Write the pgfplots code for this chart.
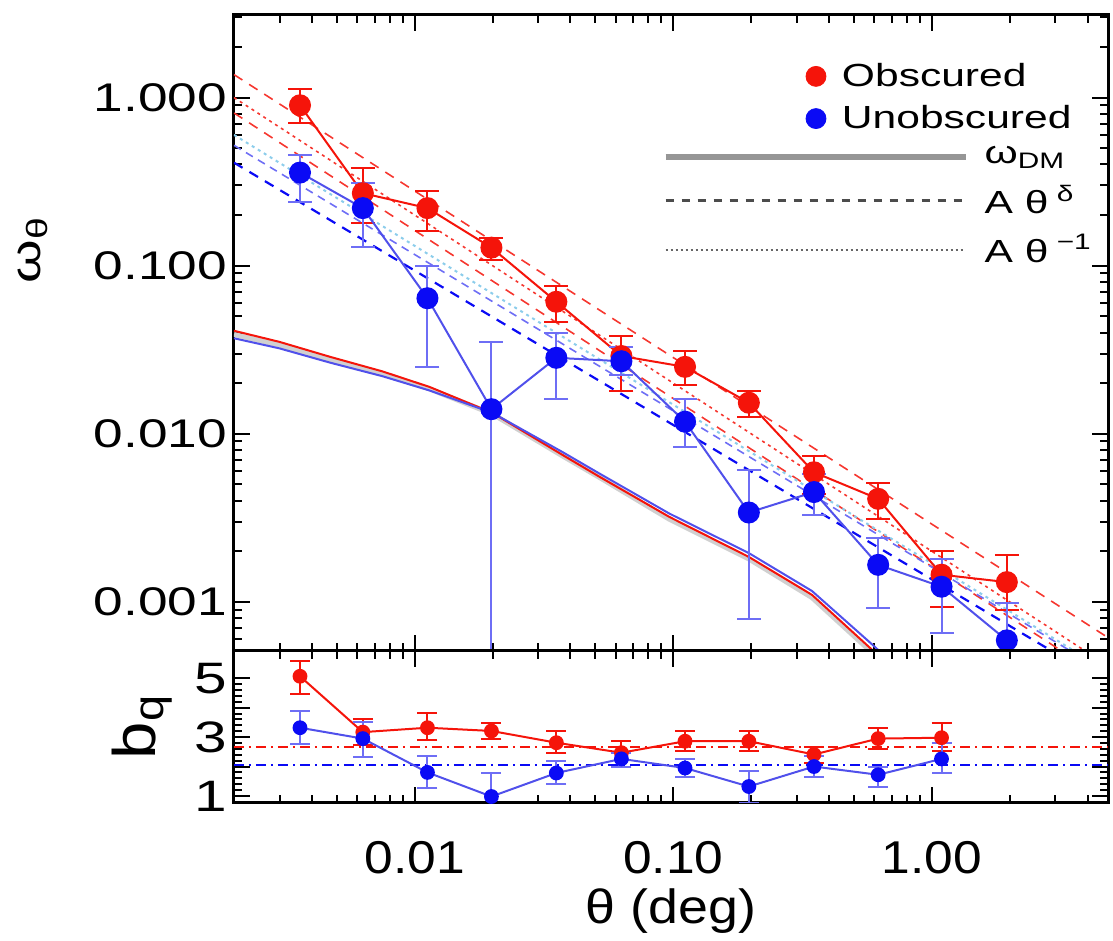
\documentclass[border=0pt]{standalone}
\usepackage{fontspec}
\setmainfont{Liberation Sans}
\newfontfamily\sfA{Liberation Sans}[FakeStretch=1.33]
\newfontfamily\sfB{Liberation Sans}[FakeStretch=1.12]
\usepackage{pgfplots}
\usepackage{pgfplotstable}
\pgfplotsset{compat=1.18}
\usetikzlibrary{calc}

\definecolor{myred}{RGB}{245,20,10}
\definecolor{myblue}{RGB}{10,10,245}
\definecolor{lineblue}{RGB}{80,80,235}
\definecolor{errblue}{RGB}{110,110,245}
\definecolor{ltblue}{RGB}{140,205,235}
\definecolor{dmgray}{RGB}{150,150,150}

\pgfplotstableread{
x y ep em
0.0036 0.90 0.22 0.19
0.0063 0.27 0.11 0.09
0.0112 0.22 0.06 0.06
0.0198 0.128 0.019 0.020
0.0353 0.061 0.015 0.015
0.063 0.029 0.009 0.011
0.111 0.025 0.006 0.0055
0.196 0.0153 0.0027 0.0028
0.35 0.0059 0.0015 0.0015
0.62 0.0041 0.0010 0.0010
1.09 0.00145 0.00055 0.00052
1.95 0.00131 0.00059 0.00041
}\redtop

\pgfplotstableread{
x y ep em
0.0036 0.358 0.10 0.118
0.0063 0.22 0.09 0.09
0.0112 0.064 0.036 0.039
0.0198 0.014 0.021 0.0139
0.0353 0.0283 0.0117 0.0123
0.063 0.027 0.0056 0.0045
0.111 0.0118 0.0042 0.0035
0.196 0.0034 0.0027 0.00261
0.35 0.0045 0.0013 0.0012
0.62 0.00166 0.00074 0.00074
1.09 0.00123 0.00057 0.00058
1.95 0.00059 0.0004 0.0004
}\bluetop

\pgfplotstableread{
x y ep em
0.0036 5.07 0.53 0.61
0.0063 3.17 0.45 0.45
0.0112 3.32 0.49 0.42
0.0198 3.21 0.26 0.29
0.0353 2.81 0.40 0.34
0.063 2.47 0.39 0.47
0.111 2.86 0.35 0.34
0.196 2.86 0.35 0.34
0.35 2.41 0.24 0.28
0.62 2.95 0.37 0.37
1.09 2.98 0.49 0.45
}\redbot

\pgfplotstableread{
x y ep em
0.0036 3.32 0.57 0.57
0.0063 2.95 0.55 0.61
0.0112 1.80 0.57 0.53
0.0198 0.98 0.80 0.50
0.0353 1.78 0.40 0.37
0.063 2.26 0.21 0.26
0.111 1.95 0.29 0.29
0.196 1.32 0.52 0.56
0.35 2.00 0.35 0.34
0.62 1.72 0.28 0.40
1.09 2.26 0.55 0.48
}\bluebot

\begin{document}
\begin{tikzpicture}
\begin{axis}[name=top, scale only axis, width=437pt, height=318pt,
  xmode=log, ymode=log, xmin=0.002, xmax=4.8, ymin=5.1e-4, ymax=3.1,
  axis line style={line width=1.5pt},
  every tick/.style={black, line width=1pt},
  major tick length=8pt, minor tick length=4pt,
  /pgf/number format/assume math mode=true,
  xtick={0.01,0.1,1}, xticklabels={},
  minor xtick={0.002,0.003,0.004,0.005,0.006,0.007,0.008,0.009,0.02,0.03,0.04,0.05,0.06,0.07,0.08,0.09,0.2,0.3,0.4,0.5,0.6,0.7,0.8,0.9,2,3,4},
  ytick={0.001,0.01,0.1,1},
  yticklabels={0.001,0.010,0.100,1.000},
  minor ytick={0.0006,0.0007,0.0008,0.0009,0.002,0.003,0.004,0.005,0.006,0.007,0.008,0.009,0.02,0.03,0.04,0.05,0.06,0.07,0.08,0.09,0.2,0.3,0.4,0.5,0.6,0.7,0.8,0.9,2,3},
  yticklabel style={font=\fontsize{20}{24}\selectfont\sfA},
  ylabel={ω\textsubscript{θ}},
  ylabel style={at={(axis description cs:-0.23,0.63)}, anchor=center, font=\fontsize{21}{24}\selectfont\sfA},
  legend cell align=left,
  legend style={at={(rel axis cs:0.654,0.931)}, anchor=north west, draw=none, fill=none,
    inner sep=0pt, row sep=4pt, column sep=6pt, font=\fontsize{16}{19}\selectfont\sfA,
    nodes={inner sep=2pt}},
]
% power-law fits
\addplot[color=myred!85, line width=0.8pt, dash pattern=on 5pt off 4pt, forget plot] coordinates {(0.002,1.37) (10,0.000296)};
\addplot[color=myred!85, line width=0.8pt, dash pattern=on 1.5pt off 2pt, forget plot] coordinates {(0.002,1.0) (10,0.0002)};
\addplot[color=myred!85, line width=0.8pt, dash pattern=on 5pt off 4pt, forget plot] coordinates {(0.002,0.81) (10,0.000162)};
\addplot[color=ltblue, line width=1pt, dash pattern=on 1.5pt off 2pt, forget plot] coordinates {(0.002,0.60) (10,0.000192)};
\addplot[color=errblue, line width=0.8pt, dash pattern=on 4pt off 3pt, forget plot] coordinates {(0.002,0.52) (10,0.000189)};
\addplot[color=myblue, line width=1.1pt, dash pattern=on 5pt off 4pt, forget plot] coordinates {(0.002,0.41) (10,0.000164)};
% DM curves
\addplot[color=dmgray!45, line width=2.5pt, forget plot] coordinates {(0.002,0.039) (0.003,0.0337) (0.0047,0.0276) (0.0075,0.0227) (0.0114,0.0185) (0.02,0.0131) (0.0372,0.0074) (0.0518,0.0055) (0.0966,0.0031) (0.196,0.0018) (0.344,0.00106) (0.586,0.0005) (0.8,0.00032)};
\addplot[color=myred, line width=1pt, forget plot] coordinates {(0.002,0.041) (0.003,0.0352) (0.0047,0.0287) (0.0075,0.0235) (0.0114,0.019) (0.02,0.0133) (0.0372,0.0075) (0.0518,0.00555) (0.0966,0.0032) (0.196,0.00185) (0.344,0.0011) (0.586,0.00052) (0.8,0.00033)};
\addplot[color=lineblue, line width=1pt, forget plot] coordinates {(0.002,0.037) (0.003,0.0322) (0.0047,0.0265) (0.0075,0.0220) (0.0114,0.0181) (0.02,0.0133) (0.0372,0.0078) (0.0518,0.0058) (0.0966,0.00335) (0.196,0.00195) (0.344,0.00116) (0.586,0.00056) (0.8,0.00036)};
% data
\addplot[color=myred, line width=1pt, mark=*, mark size=5pt, mark options={solid, fill=myred}, forget plot,
  error bars/.cd, y dir=both, y explicit,
  error bar style={line width=1pt, myred},
  error mark options={rotate=90, mark size=6pt, line width=1pt, myred}]
  table[x=x, y=y, y error plus=ep, y error minus=em] {\redtop};
\addplot[color=lineblue, line width=1pt, mark=*, mark size=5pt, mark options={solid, fill=myblue, draw=myblue}, forget plot,
  error bars/.cd, y dir=both, y explicit,
  error bar style={line width=1pt, errblue},
  error mark options={rotate=90, mark size=6pt, line width=1pt, errblue}]
  table[x=x, y=y, y error plus=ep, y error minus=em] {\bluetop};
\addlegendimage{only marks, mark=*, mark size=5pt, color=myred}
\addlegendentry{Obscured}
\addlegendimage{only marks, mark=*, mark size=5pt, color=myblue}
\addlegendentry{Unobscured}
\end{axis}

% overlay axis for the line-style legend
\begin{axis}[at={(top.south west)}, anchor=south west, scale only axis,
  width=437pt, height=318pt, hide axis, xmin=0, xmax=1, ymin=0, ymax=1,
  legend cell align=left,
  legend style={at={(rel axis cs:0.49,0.80)}, anchor=north west, draw=none, fill=none,
    inner sep=0pt, row sep=5pt, font=\fontsize{16}{19}\selectfont\sfA,
    nodes={inner sep=2pt}, column sep=6pt},
  legend image code/.code={\draw[#1] (0pt,0pt) -- (150pt,0pt);},
]
\addlegendimage{color=dmgray, line width=3pt}
\addlegendentry{ω\textsubscript{DM}}
\addlegendimage{color=black!70, line width=1.3pt, dash pattern=on 4pt off 4pt}
\addlegendentry{A θ\textsuperscript{ δ}}
\addlegendimage{color=black!60, line width=0.8pt, dash pattern=on 1pt off 1.5pt}
\addlegendentry{A θ\textsuperscript{ −1}}
\end{axis}

\begin{axis}[name=bot, at={(top.south west)}, anchor=north west, scale only axis, width=437pt, height=76pt,
  xmode=log, xmin=0.002, xmax=4.8, ymin=0.76, ymax=5.93,
  axis line style={line width=1.5pt},
  every tick/.style={black, line width=1pt},
  major tick length=8pt, minor tick length=4pt,
  /pgf/number format/assume math mode=true,
  xtick={0.01,0.1,1},
  minor xtick={0.002,0.003,0.004,0.005,0.006,0.007,0.008,0.009,0.02,0.03,0.04,0.05,0.06,0.07,0.08,0.09,0.2,0.3,0.4,0.5,0.6,0.7,0.8,0.9,2,3,4},
  xticklabels={0.01,0.10,1.00},
  xticklabel style={font=\fontsize{23}{26}\selectfont\sfB, yshift=-15.5pt},
  ytick={1,2,3,4,5}, yticklabels={1,,3,,5},
  minor y tick num=4,
  yticklabel style={font=\fontsize{22}{26}\selectfont\sfA},
  ylabel={b\textsubscript{q}},
  ylabel style={at={(axis description cs:-0.105,0.5)}, anchor=center, font=\fontsize{30}{34}\selectfont\sfB},
  xlabel={θ (deg)},
  xlabel style={at={(axis description cs:0.5,0)}, anchor=center, yshift=-54pt, font=\fontsize{24}{28}\selectfont\sfB},
]
\addplot[color=myred, line width=1pt, dash pattern=on 5pt off 2.5pt on 1pt off 2.5pt] coordinates {(0.002,2.65) (4.8,2.65)};
\addplot[color=myblue, line width=1pt, dash pattern=on 5pt off 2.5pt on 1pt off 2.5pt] coordinates {(0.002,2.05) (4.8,2.05)};
\addplot[color=myred, line width=1pt, mark=*, mark size=3.2pt, mark options={solid, fill=myred},
  error bars/.cd, y dir=both, y explicit,
  error bar style={line width=1pt, myred},
  error mark options={rotate=90, mark size=5pt, line width=1pt, myred}]
  table[x=x, y=y, y error plus=ep, y error minus=em] {\redbot};
\addplot[color=lineblue, line width=1pt, mark=*, mark size=3.2pt, mark options={solid, fill=myblue, draw=myblue},
  error bars/.cd, y dir=both, y explicit,
  error bar style={line width=1pt, errblue},
  error mark options={rotate=90, mark size=5pt, line width=1pt, errblue}]
  table[x=x, y=y, y error plus=ep, y error minus=em] {\bluebot};
\end{axis}

\pgfresetboundingbox
\path ($(top.north west)+(-117pt,7.5pt)$) rectangle ($(top.north west)+(439.5pt,-463pt)$);
\end{tikzpicture}
\end{document}
